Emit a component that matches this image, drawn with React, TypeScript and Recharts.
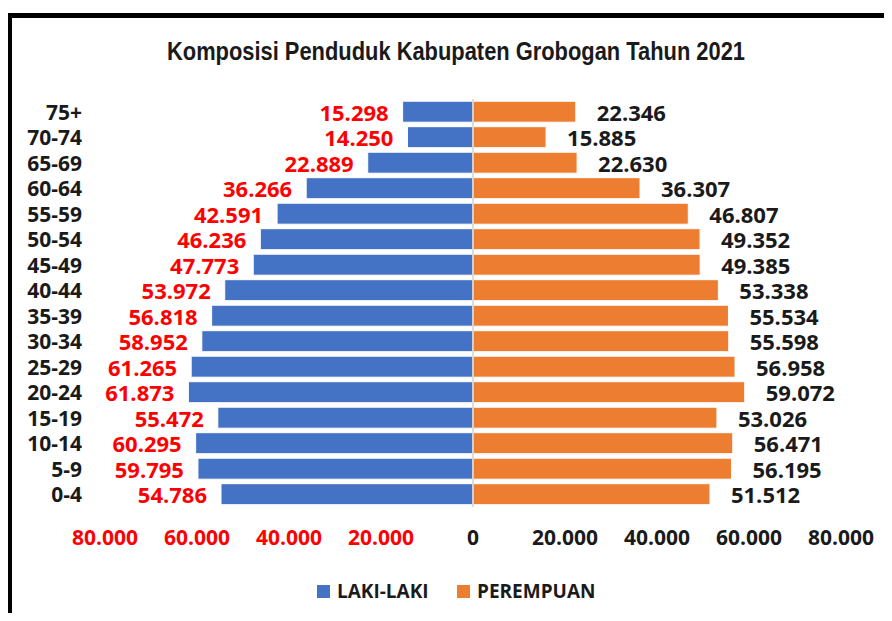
import { BarChart, Bar, XAxis, YAxis, ReferenceLine, LabelList } from 'recharts'

// Kelompok umur, dari atas ke bawah seperti di gambar
const ageGroups = ['75+', '70-74', '65-69', '60-64', '55-59', '50-54', '45-49', '40-44', '35-39', '30-34', '25-29', '20-24', '15-19', '10-14', '5-9', '0-4']
const lakiLaki = [15298, 14250, 22889, 36266, 42591, 46236, 47773, 53972, 56818, 58952, 61265, 61873, 55472, 60295, 59795, 54786]
const perempuan = [22346, 15885, 22630, 36307, 46807, 49352, 49385, 53338, 55534, 55598, 56958, 59072, 53026, 56471, 56195, 51512]
const xTicks = [-80000, -60000, -40000, -20000, 0, 20000, 40000, 60000, 80000]

const TITLE = 'Komposisi Penduduk Kabupaten Grobogan Tahun 2021'
const BLUE = '#4472C4'
const ORANGE = '#ED7D31'
const RED = '#FF0000'
const INK = '#1a1a1a'
const FONT = '"Open Sans", "DejaVu Sans", sans-serif'

const data = ageGroups.map((g, i) => ({
  group: g,
  laki: -lakiLaki[i],
  perempuan: perempuan[i],
}))

// 54786 -> "54.786"
function fmt(v: number) {
  return String(Math.abs(v)).replace(/\B(?=(\d{3})+(?!\d))/g, '.')
}

function XTick({ x, y, payload }: any) {
  const v = payload.value as number
  return (
    <text x={x} y={y} dy="0.71em" textAnchor="middle" fontFamily={FONT} fontWeight={700} fontSize={21} fill={v < 0 ? RED : INK}>
      {fmt(v)}
    </text>
  )
}

function YTick({ x, y, payload }: any) {
  return (
    <text x={x} y={y} dominantBaseline="central" textAnchor="end" fontFamily={FONT} fontWeight={700} fontSize={21} fill={INK}>
      {payload.value}
    </text>
  )
}

function MaleLabel(props: any) {
  const { x, y, width, height, value } = props
  const left = Math.min(x, x + width)
  return (
    <text x={left - 14} y={y + height / 2} dominantBaseline="central" textAnchor="end" fontFamily={FONT} fontWeight={700} fontSize={22} fill={RED}>
      {fmt(value)}
    </text>
  )
}

function FemaleLabel(props: any) {
  const { x, y, width, height, value } = props
  const right = Math.max(x, x + width)
  return (
    <text x={right + 21} y={y + height / 2} dominantBaseline="central" textAnchor="start" fontFamily={FONT} fontWeight={700} fontSize={22} fill={INK}>
      {fmt(value)}
    </text>
  )
}

export default function App() {
  return (
    <div style={{ position: 'relative', width: 892, height: 621, margin: -8, overflow: 'hidden', background: '#fff' }}>
      {/* bingkai hitam */}
      <div style={{ position: 'absolute', left: 7, top: 13, width: 1000, height: 1000, borderLeft: '5px solid #000', borderTop: '5px solid #000' }} />

      <svg style={{ position: 'absolute', left: 0, top: 0 }} width={892} height={80}>
        <text x={456} y={60} textAnchor="middle" textLength={578} lengthAdjust="spacingAndGlyphs" fontFamily='"Liberation Sans", Arial, sans-serif' fontWeight={700} fontSize={25} fill={INK}>
          {TITLE}
        </text>
      </svg>

      <div style={{ position: 'absolute', left: 0, top: 0 }}>
        <BarChart
          width={892}
          height={621}
          data={data}
          layout="vertical"
          stackOffset="sign"
          barCategoryGap="8.6%"
          margin={{ top: 99, right: 51, bottom: 74, left: 20 }}
        >
          <XAxis
            type="number"
            domain={[-80000, 80000]}
            ticks={xTicks}
            axisLine={false}
            tickLine={false}
            tickSize={0}
            tickMargin={23}
            height={40}
            tick={<XTick />}
            interval={0}
          />
          <YAxis
            type="category"
            dataKey="group"
            width={85}
            axisLine={false}
            tickLine={false}
            tickSize={0}
            tickMargin={23}
            tick={<YTick />}
            interval={0}
          />
          <Bar dataKey="laki" stackId="a" fill={BLUE} stroke="#fff" strokeWidth={1} isAnimationActive={false}>
            <LabelList dataKey="laki" content={<MaleLabel />} />
          </Bar>
          <Bar dataKey="perempuan" stackId="a" fill={ORANGE} stroke="#fff" strokeWidth={1} isAnimationActive={false}>
            <LabelList dataKey="perempuan" content={<FemaleLabel />} />
          </Bar>
          <ReferenceLine x={0} stroke="#d0d0d0" strokeWidth={1.5} />
        </BarChart>
      </div>

      {/* legenda */}
      <svg style={{ position: 'absolute', left: 0, top: 570 }} width={892} height={45}>
        <rect x={317} y={15} width={13} height={13} fill={BLUE} />
        <text x={337} y={28} fontFamily={FONT} fontWeight={700} fontSize={19} fill={INK}>LAKI-LAKI</text>
        <rect x={457} y={15} width={13} height={13} fill={ORANGE} />
        <text x={477} y={28} fontFamily={FONT} fontWeight={700} fontSize={19} fill={INK}>PEREMPUAN</text>
      </svg>
    </div>
  )
}
